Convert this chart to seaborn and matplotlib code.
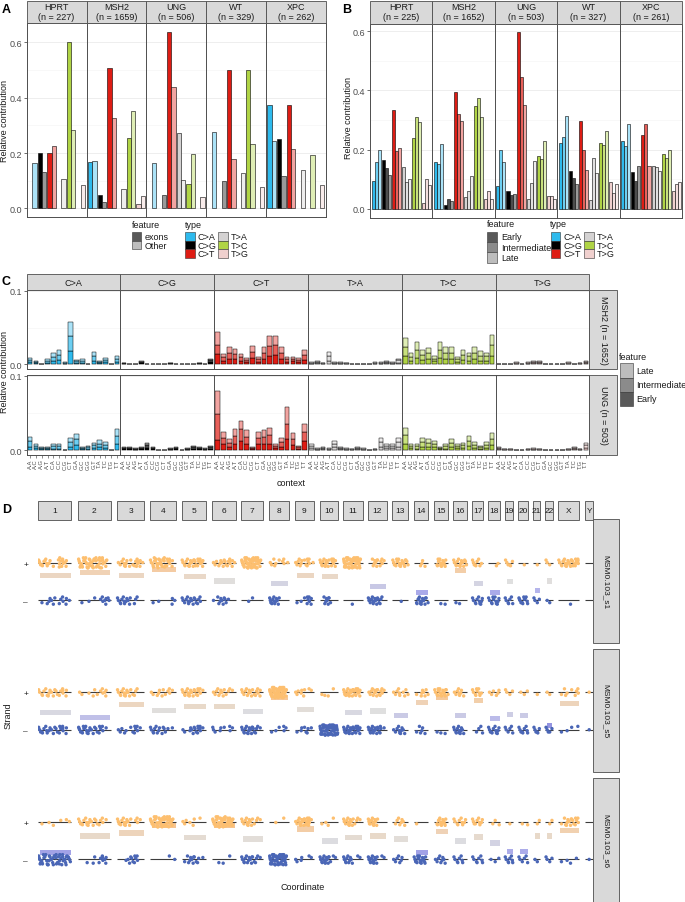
import numpy as np
import pandas as pd
import matplotlib
matplotlib.use("Agg")
import matplotlib.pyplot as plt
from matplotlib.patches import Rectangle
from matplotlib.colors import LinearSegmentedColormap, to_rgb, to_hex
import seaborn as sns

sns.set_theme(style="ticks")
plt.rcParams['font.family'] = ['Liberation Sans', 'DejaVu Sans']

# ----------------------------- DATA -----------------------------
TYPES = ["C>A", "C>G", "C>T", "T>A", "T>C", "T>G"]
TYPE_COLORS = ["#2EBAED", "#000000", "#DE1C14", "#D4D2D2", "#B0D445", "#F0D0CE"]

# Panel A
A_SAMPLES = ["HPRT", "MSH2", "UNG", "WT", "XPC"]
A_N = [227, 1659, 506, 329, 262]
A_FEATURES = ["exons", "Other"]
A_EXONS = {
    "HPRT": [0.000, 0.200, 0.200, 0.000, 0.600, 0.000],
    "MSH2": [0.168, 0.047, 0.508, 0.000, 0.254, 0.016],
    "UNG":  [0.000, 0.000, 0.636, 0.272, 0.088, 0.000],
    "WT":   [0.000, 0.000, 0.500, 0.000, 0.500, 0.000],
    "XPC":  [0.375, 0.250, 0.375, 0.000, 0.000, 0.000],
}
A_OTHER = {
    "HPRT": [0.165, 0.130, 0.225, 0.105, 0.283, 0.083],
    "MSH2": [0.173, 0.022, 0.328, 0.072, 0.350, 0.046],
    "UNG":  [0.163, 0.050, 0.437, 0.102, 0.197, 0.042],
    "WT":   [0.277, 0.100, 0.180, 0.128, 0.233, 0.076],
    "XPC":  [0.243, 0.117, 0.215, 0.140, 0.193, 0.083],
}

# Panel B
B_SAMPLES = ["HPRT", "MSH2", "UNG", "WT", "XPC"]
B_N = [225, 1652, 503, 327, 261]
B_FEATURES = ["Early", "Intermediate", "Late"]
B_EARLY = {
    "HPRT": [0.093, 0.165, 0.333, 0.142, 0.238, 0.020],
    "MSH2": [0.160, 0.015, 0.393, 0.040, 0.347, 0.035],
    "UNG":  [0.078, 0.060, 0.595, 0.035, 0.180, 0.045],
    "WT":   [0.222, 0.127, 0.296, 0.030, 0.222, 0.090],
    "XPC":  [0.228, 0.123, 0.250, 0.145, 0.187, 0.060],
}
B_INTER = {
    "HPRT": [0.160, 0.137, 0.195, 0.090, 0.310, 0.101],
    "MSH2": [0.150, 0.033, 0.320, 0.062, 0.373, 0.060],
    "UNG":  [0.200, 0.047, 0.445, 0.087, 0.168, 0.045],
    "WT":   [0.242, 0.105, 0.200, 0.173, 0.215, 0.055],
    "XPC":  [0.212, 0.093, 0.288, 0.143, 0.173, 0.085],
}
B_LATE = {
    "HPRT": [0.198, 0.113, 0.207, 0.102, 0.292, 0.082],
    "MSH2": [0.218, 0.028, 0.297, 0.110, 0.310, 0.035],
    "UNG":  [0.157, 0.050, 0.352, 0.162, 0.230, 0.035],
    "WT":   [0.313, 0.083, 0.130, 0.122, 0.262, 0.083],
    "XPC":  [0.285, 0.146, 0.146, 0.128, 0.200, 0.090],
}

# Panel C (values x 1000), 16 contexts per type, order C>A, C>G, C>T, T>A, T>C, T>G
C_CONTEXTS = ["A.A", "A.C", "A.G", "A.T", "C.A", "C.C", "C.G", "C.T",
              "G.A", "G.C", "G.G", "G.T", "T.A", "T.C", "T.G", "T.T"]
C_ROWS = ["MSH2 (n = 1652)", "UNG (n = 503)"]
MSH2_EARLY = [3, 1.5, 0.5, 2, 4.5, 6, 1, 18, 2, 2, 0.5, 5, 1.5, 3, 0.5, 3.5,
              1, 0.5, 0.5, 1.5, 0.5, 0.5, 0.5, 0.5, 1, 0.5, 0.5, 0.5, 0.5, 1, 0.5, 3,
              14, 5, 8, 7, 5, 3, 9, 3, 8, 12, 13, 8, 3, 4, 3, 6,
              1, 1.5, 0.5, 5, 1, 1, 0.5, 0.3, 0.3, 0.3, 0.3, 1, 1, 1.5, 1, 2.5,
              11, 5, 9, 6, 7, 4, 9, 7, 7, 3, 6, 5, 7, 5, 5, 12,
              0.3, 0.3, 0.3, 1, 0.3, 1, 1.5, 1.5, 0.3, 0.3, 0.3, 0.3, 1, 0.3, 0.5, 1.5]
MSH2_INTER = [3, 1.5, 0.3, 2.5, 5, 7, 1, 21, 2, 2.5, 0.3, 6, 2, 3, 0.3, 4.5,
              0.5, 0.3, 0.3, 1.5, 0.3, 0.3, 0.3, 0.3, 0.5, 0.3, 0.3, 0.3, 0.3, 0.5, 0.3, 2.5,
              12, 5, 8, 7, 5, 3, 8, 4, 8, 13, 13, 8, 4, 3, 3, 7,
              1, 1.5, 0.8, 6, 1, 1, 0.8, 0.4, 0.4, 0.4, 0.4, 1, 1, 2, 1, 3,
              13, 5, 11, 7, 8, 4, 11, 8, 8, 4, 7, 6, 8, 7, 6, 14,
              0.4, 0.4, 0.4, 1, 0.4, 1, 1.5, 2, 0.4, 0.4, 0.4, 0.4, 1, 0.4, 0.8, 2]
MSH2_LATE = [3, 1.5, 0.2, 2.5, 5.5, 7, 1, 19, 2, 2.5, 0.2, 6, 1.5, 3, 0.2, 4,
             0.5, 0.2, 0.2, 1, 0.2, 0.2, 0.2, 0.2, 0.5, 0.2, 0.2, 0.2, 0.2, 0.5, 0.2, 2.5,
             18, 4, 7, 7, 4, 3, 8, 3, 8, 13, 13, 8, 3, 3, 3, 6,
             1, 1, 0.7, 6, 1, 1, 0.7, 0.3, 0.3, 0.3, 0.3, 1, 1, 1.5, 1, 2.5,
             12, 5, 11, 7, 7, 4, 10, 8, 8, 3, 6, 5, 8, 6, 5, 14,
             0.3, 0.3, 0.3, 1, 0.3, 1, 1, 1.5, 0.3, 0.3, 0.3, 0.3, 1, 0.3, 0.7, 1.5]
UNG_EARLY = [5, 3, 1.5, 1.5, 2.5, 2.5, 0.2, 5, 7, 1.5, 2, 3, 4, 3, 0.3, 9,
             1.5, 1.5, 1, 1.5, 3, 1.5, 0.3, 0.3, 1, 1.5, 0.3, 1, 2, 1.5, 1, 2,
             14, 8, 5, 9, 12, 8, 1.5, 8, 9, 9, 3, 5, 15, 7, 2, 13,
             3, 1, 1.5, 1, 4, 1.5, 1, 0.5, 1.5, 1, 0.3, 0.5, 5, 3, 3, 5,
             9, 3, 2.5, 5, 5, 4, 1.5, 2.5, 5, 3, 3, 6, 3, 2, 3, 7,
             1.5, 0.5, 0.5, 0.3, 0.3, 0.5, 1, 0.5, 0.3, 0.3, 0.3, 0.3, 0.5, 1.5, 0.5, 3]
UNG_INTER = [7, 3, 1.5, 1.5, 3, 3, 0.2, 6, 8, 1.5, 2, 4, 5, 4, 0.4, 10,
             1.5, 1.5, 1, 1.5, 4, 1.5, 0.4, 0.4, 1, 1.5, 0.4, 1, 2, 1.5, 1, 2,
             35, 9, 5, 10, 16, 10, 1.5, 9, 9, 11, 3, 6, 21, 8, 2, 12,
             3, 1, 2, 1, 4, 2, 1, 0.8, 1.5, 1, 0.4, 0.8, 6, 3, 3, 6,
             11, 3, 3, 6, 5, 5, 2, 3, 5, 3, 4, 7, 4, 2, 4, 8,
             1.5, 1, 1, 0.4, 0.4, 1, 1, 1, 0.4, 0.4, 0.4, 0.4, 1, 1.5, 1, 4]
UNG_LATE = [6, 3, 1.5, 1.5, 2.5, 2.5, 0.1, 5, 7, 1.5, 2, 3, 5, 4, 0.3, 9,
            1, 1, 1, 1, 3, 1, 0.3, 0.3, 1, 1, 0.3, 1, 2, 1, 1, 2,
            31, 8, 5, 9, 12, 9, 1.5, 8, 9, 10, 3, 5, 22, 8, 2, 11,
            3, 1, 1.5, 1, 4, 1.5, 1, 0.7, 1, 1, 0.3, 0.7, 5, 3, 3, 5,
            10, 3, 2.5, 6, 5, 4, 1.5, 2.5, 5, 3, 3, 6, 4, 2, 4, 8,
            1, 0.5, 0.5, 0.3, 0.3, 0.5, 1, 0.5, 0.3, 0.3, 0.3, 0.3, 0.5, 1, 0.5, 3]

# Panel D: mutation density per chromosome region (points per bin), and strand bias
CHROMS = [str(i) for i in range(1, 23)] + ["X", "Y"]
D_SAMPLES = ["MSM0.103_s1", "MSM0.103_s5", "MSM0.103_s6"]
S1_PLUS = ["4342105430", "5666656640", "1233122431", "2545453320", "2324343330", "1212232321",
           "4666666640", "1121011201", "1222023201", "2323213320", "5555555550", "0022312210",
           "344443", "001210", "044440", "232423", "3321", "0011", "33", "01", "01", "21",
           "23444443", "0"]
S1_MINUS = ["0112212221", "0101011232", "2332302100", "0101000021", "2232232200", "1022231000",
            "0001010000", "3332210000", "0101013220", "0022320000", "0000100000", "2232232100",
            "000100", "034432", "001010", "011000", "2333", "2433", "232", "444", "22", "11",
            "00001000", "0"]
S5_PLUS = ["2323232320", "1101121230", "2333222100", "1112121210", "2333233210", "1222221110",
           "2222222220", "4666666640", "1202110110", "0110100100", "3333333330", "1222322210",
           "123022", "010322", "244442", "123210", "2431", "1212", "22", "12", "01", "11",
           "01210122", "1"]
S5_MINUS = ["3332233320", "4443233210", "1211023210", "2322131010", "1102233310", "2102010210",
            "2323332110", "0101010210", "0102022010", "5555555555", "3333333330", "2332233010",
            "123320", "012210", "011010", "233320", "022", "3333", "222", "333", "33", "32",
            "01010101", "1"]
S6_PLUS = ["0101101011", "3333232210", "3333211210", "4555555540", "1201110100", "4555554440",
           "2233221110", "0001000100", "1233344410", "0101100100", "2233221110", "3233210000",
           "022220", "010000", "034440", "2332", "3232", "021", "01", "011", "02", "02",
           "01233332", "0"]
S6_MINUS = ["5555555554", "0010112330", "0001233200", "0000000101", "0122322010", "0010100100",
            "2322322110", "5555555550", "1102000110", "2333320110", "2322200110", "2333300110",
            "122200", "344440", "122220", "2330", "233", "12", "233", "222", "11", "22",
            "01011010", "1"]
S1_BIAS = [0.32, 0.47, 0.32, 0.63, 0.26, 0.03, None, -0.12, 0.32, 0.26, None, -0.26,
           None, -0.58, None, 0.58, -0.12, -0.58, 0.0, None, -0.47, 0.02, None, None]
S5_BIAS = [-0.08, -0.35, 0.35, 0.03, 0.24, 0.24, -0.03, 0.73, 0.08, -0.84, -0.08, 0.0,
           -0.24, 0.46, 0.70, -0.24, 0.57, -0.40, -0.20, -0.24, None, -0.78, 0.40, None]
S6_BIAS = [-0.65, 0.24, 0.40, 0.78, 0.14, 0.80, 0.08, None, 0.60, -0.03, 0.14, 0.24,
           0.08, -0.65, 0.46, -0.03, 0.19, -0.14, -0.57, -0.57, 0.24, 0.24, 0.51, None]

# ----------------------------- LAYOUT HELPERS -----------------------------
W, H = 685, 903
fig = plt.figure(figsize=(W / 100, H / 100), dpi=100)
fig.patch.set_facecolor("white")
EDGE = "#4D4D4D"
STRIP = "#D9D9D9"
FS = 6.5


def ax_px(x0, y0, x1, y1):
    return fig.add_axes([x0 / W, 1 - y1 / H, (x1 - x0) / W, (y1 - y0) / H])


def rect_px(x0, y0, x1, y1, fc, ec=EDGE, lw=0.6, z=3):
    fig.add_artist(Rectangle((x0 / W, 1 - y1 / H), (x1 - x0) / W, (y1 - y0) / H,
                             transform=fig.transFigure, fc=fc, ec=ec, lw=lw, zorder=z))


def text_px(x, y, s, **kw):
    kw.setdefault("fontsize", FS)
    kw.setdefault("color", "#1A1A1A")
    fig.text(x / W, 1 - y / H, s, **kw)


def blend(c, a):
    r = np.array(to_rgb(c))
    return to_hex(r * a + (1 - a))


def style_bar_facet(ax, ylim, major, minor, show_y, xlim=(-0.6, 5.6)):
    ax.set_xlim(*xlim)
    ax.set_ylim(*ylim)
    ax.set_xticks([])
    ax.set_xlabel("")
    ax.set_ylabel("")
    ax.set_yticks(major)
    ax.set_yticks(minor, minor=True)
    ax.set_yticklabels([f"{v:.1f}" for v in major])
    ax.grid(True, which="major", axis="y", color="#EBEBEB", lw=0.6)
    ax.grid(True, which="minor", axis="y", color="#F3F3F3", lw=0.4)
    ax.set_axisbelow(True)
    ax.tick_params(axis="y", which="minor", length=0)
    ax.tick_params(axis="y", which="major", length=2.5, width=0.5, color="#333333",
                   labelsize=FS, pad=1, labelcolor="#4D4D4D", left=show_y, labelleft=show_y)
    ax.tick_params(axis="x", length=0, bottom=False)
    for sp in ax.spines.values():
        sp.set_visible(True)
        sp.set_color(EDGE)
        sp.set_linewidth(0.7)
    ax.set_facecolor("white")


def draw_dodged(ax, samples_vals, features, alphas, offsets):
    rows = []
    pal = {}
    for fi, feat in enumerate(features):
        for i, t in enumerate(TYPES):
            key = f"{t}|{feat}"
            pal[key] = blend(TYPE_COLORS[i], alphas[fi])
            rows.append(dict(pos=i + offsets[fi], val=samples_vals[fi][i], key=key))
    df = pd.DataFrame(rows)
    sns.barplot(data=df, x="pos", y="val", hue="key", palette=pal, native_scale=True,
                width=1, dodge=False, errorbar=None, saturation=1, legend=False,
                edgecolor="black", linewidth=0.4, ax=ax)
    for p in ax.patches:
        if p.get_height() <= 0:
            p.set_visible(False)


# ----------------------------- PANEL A -----------------------------
A_LEFT, A_FW = 26.7, 59.8
A_TOP, A_BOT = 24.3, 218.3
for j, s in enumerate(A_SAMPLES):
    x0 = A_LEFT + j * A_FW
    ax = ax_px(x0, A_TOP, x0 + A_FW, A_BOT)
    draw_dodged(ax, [A_EXONS[s], A_OTHER[s]], A_FEATURES, [1.0, 0.4], [-0.225, 0.225])
    style_bar_facet(ax, (-0.0318, 0.668), [0, 0.2, 0.4, 0.6], [0.1, 0.3, 0.5], j == 0)
    rect_px(x0, 1.5, x0 + A_FW, A_TOP, STRIP)
    text_px(x0 + A_FW / 2, 12.8, f"{s}\n(n = {A_N[j]})", ha="center", va="center",
            linespacing=1.15, zorder=4)
text_px(2, 10, "A", fontsize=9, fontweight="bold", va="center", color="black")
text_px(5, 121, "Relative contribution", rotation=90, ha="center", va="center")

# Legend A
text_px(131.7, 226, "feature", va="center")
for k, (lab, a) in enumerate(zip(A_FEATURES, [1.0, 0.4])):
    y0 = 233 + k * 8.7
    rect_px(132.3, y0, 141.0, y0 + 8.7, blend("#595959", a), ec="#333333", lw=0.4)
    text_px(145, y0 + 4.5, lab, va="center")
text_px(185, 226, "type", va="center")
for k, t in enumerate(TYPES):
    col, row = divmod(k, 3)
    xk = 185.3 + col * 33.0
    y0 = 233 + row * 8.7
    rect_px(xk, y0, xk + 9.7, y0 + 8.7, TYPE_COLORS[k], ec="#333333", lw=0.4)
    text_px(xk + 12.3, y0 + 4.5, t, va="center")

# ----------------------------- PANEL B -----------------------------
B_LEFT, B_FW = 370.0, 62.45
B_TOP, B_BOT = 24.6, 218.8
for j, s in enumerate(B_SAMPLES):
    x0 = B_LEFT + j * B_FW
    ax = ax_px(x0, B_TOP, x0 + B_FW, B_BOT)
    draw_dodged(ax, [B_EARLY[s], B_INTER[s], B_LATE[s]], B_FEATURES, [1.0, 0.7, 0.4],
                [-0.3, 0.0, 0.3])
    style_bar_facet(ax, (-0.0298, 0.625), [0, 0.2, 0.4, 0.6], [0.1, 0.3, 0.5], j == 0)
    rect_px(x0, 1.5, x0 + B_FW, B_TOP, STRIP)
    text_px(x0 + B_FW / 2, 12.8, f"{s}\n(n = {B_N[j]})", ha="center", va="center",
            linespacing=1.15, zorder=4)
text_px(342, 10, "B", fontsize=9, fontweight="bold", va="center", color="black")
text_px(348.3, 118, "Relative contribution", rotation=90, ha="center", va="center")

# Legend B
text_px(486.7, 225, "feature", va="center")
for k, (lab, a) in enumerate(zip(B_FEATURES, [1.0, 0.7, 0.4])):
    y0 = 232.7 + k * 10.3
    rect_px(486.7, y0, 496.7, y0 + 10.3, blend("#595959", a), ec="#333333", lw=0.4)
    text_px(501.3, y0 + 5.2, lab, va="center")
text_px(550, 225, "type", va="center")
for k, t in enumerate(TYPES):
    col, row = divmod(k, 3)
    xk = 550.7 + col * 33.6
    y0 = 233 + row * 8.7
    rect_px(xk, y0, xk + 9.7, y0 + 8.7, TYPE_COLORS[k], ec="#333333", lw=0.4)
    text_px(xk + 12.3, y0 + 4.5, t, va="center")

# ----------------------------- PANEL C -----------------------------
C_LEFT, C_FW = 26.7, 93.77
C_ROW_Y = [(291.0, 369.5), (376.0, 455.5)]
C_DATA = [(MSH2_EARLY, MSH2_INTER, MSH2_LATE), (UNG_EARLY, UNG_INTER, UNG_LATE)]
C_ALPHA = [1.0, 0.7, 0.4]
for r, (top, bot) in enumerate(C_ROW_Y):
    e_all, i_all, l_all = [np.array(v) / 1000.0 for v in C_DATA[r]]
    for j, t in enumerate(TYPES):
        x0 = C_LEFT + j * C_FW
        ax = ax_px(x0, top, x0 + C_FW, bot)
        sl = slice(j * 16, (j + 1) * 16)
        xs = np.arange(16)
        bottom = np.zeros(16)
        for vals, a in zip((e_all[sl], i_all[sl], l_all[sl]), C_ALPHA):
            ax.bar(xs, vals, bottom=bottom, width=0.8, color=blend(TYPE_COLORS[j], a),
                   edgecolor="black", linewidth=0.35, zorder=2)
            bottom = bottom + vals
        style_bar_facet(ax, (-0.0055, 0.101), [0.0, 0.1], [0.05], j == 0, xlim=(-0.6, 15.6))
        if r == 1:
            ax.set_xticks(xs)
            ax.set_xticklabels(C_CONTEXTS, rotation=90, fontsize=4.2, color="#4D4D4D")
            ax.tick_params(axis="x", length=2, width=0.4, color="#333333", pad=0.8,
                           bottom=True)
        if r == 0:
            rect_px(x0, 275, x0 + C_FW, top, STRIP)
            text_px(x0 + C_FW / 2, 283.5, t, ha="center", va="center", zorder=4)
    rect_px(589.3, top, 617.0, bot, STRIP)
    text_px(603.2, (top + bot) / 2, C_ROWS[r], rotation=-90, ha="center", va="center", zorder=4)
text_px(2, 282, "C", fontsize=9, fontweight="bold", va="center", color="black")
text_px(5, 372, "Relative contribution", rotation=90, ha="center", va="center")
text_px(291, 484, "context", ha="center", va="center")

# Legend C
text_px(619.3, 357, "feature", va="center")
for k, (lab, a) in enumerate(zip(["Late", "Intermediate", "Early"], [0.4, 0.7, 1.0])):
    y0 = 364.3 + k * 14.2
    rect_px(620.0, y0, 633.3, y0 + 14.2, blend("#595959", a), ec="#333333", lw=0.4)
    text_px(636, y0 + 7.1, lab, va="center")

# ----------------------------- PANEL D -----------------------------
CHROM_PX = [(38, 71), (78, 110.7), (117, 144), (150, 176), (181.7, 206.3), (212.3, 235.7),
            (241.3, 263.3), (269.3, 288.7), (294.7, 314), (319.7, 338), (343.3, 362.7),
            (368, 386.7), (392.3, 408.3), (413.7, 428.3), (434.3, 448.3), (453.3, 466.7),
            (472, 483.3), (488, 500), (504.7, 513.3), (518.3, 528.3), (533.3, 540),
            (545.3, 552.7), (558.3, 579.3), (585, 593.3)]
D_X0, D_X1 = 38.0, 593.3
D_ROW_Y = [(520.0, 644.0), (650.0, 773.0), (779.0, 903.0)]
D_DATA = [(S1_PLUS, S1_MINUS, S1_BIAS), (S5_PLUS, S5_MINUS, S5_BIAS), (S6_PLUS, S6_MINUS, S6_BIAS)]
YLO, YHI = -3.25, 3.3
JIT_X = [0.5, 0.2, 0.8, 0.35, 0.65, 0.1, 0.9, 0.45, 0.6]
JIT_Y = [0.0, 0.13, -0.12, 0.06, -0.17, 0.18, -0.05, 0.1, -0.2]
ORANGE, BLUE = "#FDBF6F", "#4A66B6"
BIAS_CMAP = LinearSegmentedColormap.from_list(
    "bias", [(0, "#6E6ED6"), (0.25, "#ABABEA"), (0.5, "#DCDCDC"), (0.75, "#F0CDAA"), (1, "#FAB46A")])

for k, c in enumerate(CHROMS):
    L, R = CHROM_PX[k]
    rect_px(L, 502, R, 521, STRIP)
    text_px((L + R) / 2, 511.5, c, ha="center", va="center", fontsize=6, zorder=4)

for r, (top, bot) in enumerate(D_ROW_Y):
    plus, minus, bias = D_DATA[r]
    ax = ax_px(D_X0, top, D_X1, bot)
    ax.set_xlim(D_X0, D_X1)
    ax.set_ylim(YLO, YHI)
    ax.axis("off")
    xs, ys, st = [], [], []
    for k in range(len(CHROMS)):
        L, R = CHROM_PX[k]
        ax.hlines([1, -1], L, R, color="#3C3C3C", lw=0.8, zorder=1)
        for sv, dens in ((1, plus[k]), (-1, minus[k])):
            n = len(dens)
            for i, ch in enumerate(dens):
                cnt = int(ch)
                for m in range(cnt):
                    xs.append(L + (R - L) * (i + JIT_X[(m + i) % 9]) / n)
                    ys.append(sv + JIT_Y[(m + 2 * i) % 9] * (1.4 if cnt >= 5 else 1.0))
                    st.append("+" if sv > 0 else "-")
        b = bias[k]
        if b is not None:
            ax.add_patch(Rectangle((L + 2, b - 0.14), R - L - 2.5, 0.28,
                                   fc=BIAS_CMAP((b + 1) / 2), ec="none", alpha=0.9, zorder=0.5))
    dfp = pd.DataFrame(dict(x=xs, y=ys, strand=st))
    sns.scatterplot(data=dfp, x="x", y="y", hue="strand", palette={"+": ORANGE, "-": BLUE},
                    s=6, linewidth=0, legend=False, ax=ax, zorder=2)
    ax.set_xlim(D_X0, D_X1)
    ax.set_ylim(YLO, YHI)
    ax.axis("off")
    yp = top + (YHI - 1) / (YHI - YLO) * (bot - top)
    ym = top + (YHI + 1) / (YHI - YLO) * (bot - top)
    text_px(25.7, yp + 1.5, "+", ha="center", va="center", fontsize=6)
    text_px(25.7, ym + 1.5, "–", ha="center", va="center", fontsize=6)
    rect_px(593.3, top, 618.7, bot, STRIP)
    text_px(606, (top + bot) / 2, D_SAMPLES[r], rotation=-90, ha="center", va="center",
            fontsize=6, zorder=4)

text_px(2, 510, "D", fontsize=9, fontweight="bold", va="center", color="black")
text_px(8, 716, "Strand", rotation=90, ha="center", va="center")
text_px(303, 888, "Coordinate", ha="center", va="center")

fig.savefig("out.png", dpi=100, facecolor="white")
